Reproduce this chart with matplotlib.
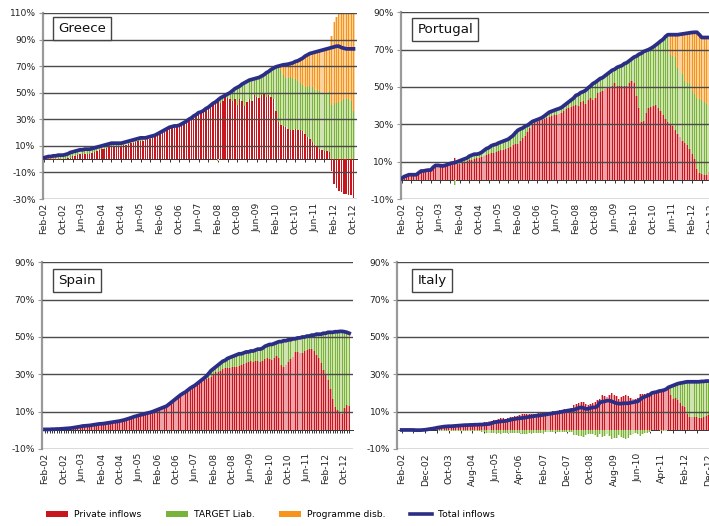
import numpy as np
import matplotlib
matplotlib.use("Agg")
import matplotlib.pyplot as plt
from matplotlib.patches import Patch
from matplotlib.lines import Line2D

plt.rcParams['font.family'] = ['DejaVu Sans']

# ---------------- data (% of GDP, monthly, from Feb-02) ----------------
LABELS_8 = ['Feb-02', 'Oct-02', 'Jun-03', 'Feb-04', 'Oct-04', 'Jun-05', 'Feb-06', 'Oct-06', 'Jun-07',
            'Feb-08', 'Oct-08', 'Jun-09', 'Feb-10', 'Oct-10', 'Jun-11', 'Feb-12', 'Oct-12']
LABELS_10 = ['Feb-02', 'Dec-02', 'Oct-03', 'Aug-04', 'Jun-05', 'Apr-06', 'Feb-07', 'Dec-07', 'Oct-08',
             'Aug-09', 'Jun-10', 'Apr-11', 'Feb-12', 'Dec-12']
SERIES = ['Private inflows', 'TARGET Liab.', 'Programme disb.', 'Total inflows']

# Greece (Feb-02 .. Oct-12)
GR_PRIV = [-1, -1, -1, -0.5, -0.5, -1, -1, -1, 0, 0, 0.5, 1, 2, 2.5, 3, 3.5,
           4, 4, 3.5, 4, 5, 5.5, 6, 7, 7.5, 8, 8.5, 9, 9.5, 9.5, 10, 10,
           10, 10.5, 11, 11.5, 12, 12.5, 13, 13.5, 14, 14, 14.5, 15, 15.5, 16, 16.5, 17.5,
           19, 20, 21, 23, 24, 24, 24.5, 24.5, 25, 26, 27, 28, 29.5, 30.5, 32, 33,
           34.5, 35, 36, 37.5, 38.5, 40, 41.5, 42, 46, 42, 44, 47, 46, 45, 44, 45,
           41, 45, 44, 40, 43, 45, 44, 48, 47, 46, 48, 49, 47, 48, 47, 45,
           36, 28, 26, 25, 24, 23, 22, 22, 23, 22, 22, 21, 19, 17, 15, 13,
           11, 9, 8, 7, 6, 6, 5.5, -9, -19, -22, -24, -25, -26, -26, -27, -27, -29]
GR_TARG = [1, 1.5, 2, 2, 2.5, 2.5, 3, 3, 3, 3.5, 3.5, 4, 3.5, 3.5, 3.5, 3.5,
           3, 3.5, 4, 3.5, 3, 3, 3, 2.5, 2.5, 2.5, 2.5, 2.5, 2.5, 2.5, 2, 2,
           2, 2, 2, 2, 2, 2, 2, 2, 2, 2, 1.5, 1.5, 1.5, 1.5, 1.5, 1.5,
           1, 1, 1, 0, 0, 0.5, 0.5, 0.5, 0.5, 0.5, 0.5, 0.5, 0.5, 0.5, 0.5, 0.5,
           0.5, 0.5, 0.5, 0.5, 0.5, 0.5, 0.5, 1, -1.5, 4, 3, 1, 3, 5, 7.5, 8,
           13, 10, 12.5, 17.5, 15.5, 14.5, 16, 12.5, 14, 15.5, 14.5, 14.5, 18, 18, 20.5, 23.5,
           33.5, 42, 41, 38, 37, 38, 40, 39, 37, 37, 35, 35, 35, 37, 40, 41,
           41, 43, 43, 44, 44, 44, 45.5, 41, 42, 42, 43, 44, 45, 45, 45, 44, 36]
GR_PROG = [0] * 98 + [3.5, 8, 10.2, 10.5, 10, 11.5, 13.5, 15, 18, 20, 23.5, 24.5, 24.5, 26, 28.5,
                      29, 30.5, 31, 32.5, 33, 32.5, 52, 61.5, 65, 66, 65, 64.5, 64, 65, 66, 76]
GR_TOTAL = [1, 1.5, 2, 2, 2.5, 2.5, 3, 3, 3, 3.5, 4, 5, 5.5, 6, 6.5, 7,
            7, 7.5, 7.5, 7.5, 8, 8.5, 9, 9.5, 10, 10.5, 11, 11.5, 12, 12, 12, 12,
            12, 12.5, 13, 13.5, 14, 14.5, 15, 15.5, 16, 16, 16, 16.5, 17, 17.5, 18, 19,
            20, 21, 22, 23, 24, 24.5, 25, 25, 25.5, 26.5, 27.5, 28.5, 30, 31, 32.5, 33.5,
            35, 35.5, 36.5, 38, 39, 40.5, 42, 43, 44.5, 46, 47, 48, 49, 50, 51.5, 53,
            54, 55, 56.5, 57.5, 58.5, 59.5, 60, 60.5, 61, 61.5, 62.5, 63.5, 65, 66, 67.5, 68.5,
            69.5, 70, 70.5, 71, 71.2, 71.5, 72, 72.5, 73.5, 74, 75, 76, 77.5, 78.5, 79.5, 80,
            80.5, 81, 81.5, 82, 82.5, 83, 83.5, 84, 84.5, 85, 85, 84, 83.5, 83, 83, 83, 83]

# Portugal (Feb-02 .. Oct-12)
PT_PRIV = [0.5, 1.5, 2, 2.5, 2.5, 2.5, 2.5, 3.5, 4.5, 4.5, 4.5, 5, 5, 6, 7, 7,
           7, 7, 7, 7.5, 8, 8, 12, 8.5, 9, 9.5, 10, 10.5, 11, 11, 11.5, 12,
           12, 12.5, 13, 13.5, 14, 14.5, 14.5, 15, 15.5, 16, 16.5, 17, 17.5, 18, 19, 19.5,
           19.5, 21, 22.5, 24, 26, 28, 30, 31, 31.5, 32, 32.5, 33, 33.5, 34, 34.5, 35,
           35, 35.5, 36, 37, 38, 39, 39.5, 40, 40.5, 40, 42, 42.5, 41, 43, 44, 43,
           44, 47, 47.5, 48, 49, 50, 50, 50.5, 52, 50.5, 50.5, 50.5, 50.5, 50.5, 52, 53,
           52, 45, 39, 31, 32, 36, 39, 39.5, 40, 40.5, 39, 37, 35, 33, 31, 30,
           29, 27, 25, 23, 21, 20, 19, 17, 14, 11.5, 6, 4, 3.5, 3, 3, 4.5, 5]
PT_TARG = [0.5, 0.5, 0.5, 0.5, 0.5, 0.5, 0.5, 0.5, 0.5, 0.5, 0.8, 0.5, 0.5, 1, 1, 1,
           0.8, 0.7, 1, 1, 1, 1.3, -2.5, 1.5, 1.5, 1.5, 1.5, 1.5, 2, 2.5, 2.5, 2,
           2.3, 2.5, 3, 3.5, 3.5, 4, 4.5, 4.3, 4.5, 4.5, 4.5, 4.5, 4.5, 5, 5, 6,
           7.3, 6.5, 5.5, 5, 3.5, 2.5, 1.5, 1, 1, 1, 1.1, 1.5, 2, 2.5, 2.5, 2.5,
           3, 2.9, 3, 3, 3, 3, 3.5, 4, 5, 6, 5, 5, 7.2, 6.5, 6.5, 8.8,
           8.5, 6.5, 7, 7, 7, 7, 8, 8.5, 7.5, 10, 10.5, 11, 12, 12.5, 12, 12,
           14, 21.5, 28.5, 37, 37, 33.5, 31, 31.2, 31.5, 32, 34.5, 37.6, 40.5, 44, 47, 37,
           37.5, 39, 35, 35, 36, 33, 33, 35, 34, 34.5, 38, 39.5, 39.5, 39, 38, 35.5, 35]
PT_PROG = [0] * 111 + [11, 11.5, 12, 18, 20.2, 21.4, 25.6, 26.8, 27, 31.2, 33.3, 35.3,
                       34.5, 33.5, 34.5, 35.5, 36.5, 36.5]
PT_TOTAL = [1, 2, 2.5, 3, 3, 3, 3, 4, 5, 5, 5.3, 5.5, 5.5, 7, 8, 8,
            7.8, 7.7, 8, 8.5, 9, 9.3, 9.5, 10, 10.5, 11, 11.5, 12, 13, 13.5, 14, 14,
            14.3, 15, 16, 17, 17.5, 18.5, 19, 19.3, 20, 20.5, 21, 21.5, 22, 23, 24, 25.5,
            26.8, 27.5, 28, 29, 29.5, 30.5, 31.5, 32, 32.5, 33, 33.6, 34.5, 35.5, 36.5, 37, 37.5,
            38, 38.4, 39, 40, 41, 42, 43, 44, 45.5, 46, 47, 47.5, 48.2, 49.5, 50.5, 51.8,
            52.5, 53.5, 54.5, 55, 56, 57, 58, 59, 59.5, 60.5, 61, 61.5, 62.5, 63, 64, 65,
            66, 66.5, 67.5, 68, 69, 69.5, 70, 70.7, 71.5, 72.5, 73.5, 74.6, 75.5, 77, 78, 78,
            78, 78, 78, 78.2, 78.4, 78.6, 78.8, 79, 79.2, 79.3, 79.3, 78, 76.5, 76.5, 76.5, 76.5, 76.5]

# Spain (Feb-02 .. Dec-12)
ES_PRIV = [0.3, 0.3, 0.4, 0.4, 0.5, 0.5, 0.6, 0.6, 0.7, 0.8, 0.9, 1, 1.2, 1.4, 1.6, 1.8,
           2, 2.1, 2.2, 2.4, 2.6, 2.8, 3, 3.2, 3.3, 3.4, 3.6, 3.8, 4, 4.2, 4.4, 4.6,
           4.8, 5.1, 5.4, 5.8, 6.2, 6.6, 7, 7.4, 7.8, 8.1, 8.4, 8.8, 9.1, 9.4, 9.8, 10.3,
           10.8, 11.3, 11.8, 12.3, 12.8, 13.8, 14.8, 15.8, 16.8, 17.8, 18.8, 19.5, 20.2, 21.2, 22.2, 23,
           23.5, 24.5, 25.5, 26.5, 27, 27.5, 28, 28.5, 29.5, 31, 31.5, 32, 33, 33.2, 33.5, 33.5,
           34, 34, 34, 34.5, 35, 35.5, 36, 36.5, 37, 36.8, 37, 37, 36.5, 37, 38, 38.5,
           38, 37.5, 39, 40, 39, 35, 34, 35, 36.5, 38, 39.5, 42, 42, 41.5, 41.5, 42.5,
           43, 43.5, 43.5, 42.5, 40.5, 38.5, 36, 32.5, 30, 27, 22, 17, 12.5, 11, 10, 9,
           12, 13.5, 13]
ES_TARG = [0.2, 0.2, 0.1, 0.2, 0.1, 0.2, 0.1, 0.2, 0.2, 0.2, 0.2, 0.2, 0.2, 0.2, 0.2, 0.2,
           0.3, 0.3, 0.3, 0.2, 0.2, 0.2, 0.2, 0.2, 0.2, 0.2, 0.2, 0.2, 0.2, 0.2, 0.2, 0.2,
           0.2, 0.2, 0.2, 0.2, 0.2, 0.2, 0.3, 0.2, 0.2, 0.2, 0.2, 0.2, 0.2, 0.2, 0.2, 0.2,
           0.2, 0.2, 0.2, 0.2, 0.2, 0.2, 0.2, 0.2, 0.2, 0.2, 0.2, 0.3, 0.3, 0.3, 0.3, 0.3,
           0.5, 0.5, 0.5, 0.5, 1, 1.5, 2.5, 3.5, 3.5, 3, 3.5, 4, 4, 4.3, 5, 5.5,
           5.5, 6, 6.5, 6.5, 6, 6, 6, 5.5, 5.5, 5.7, 6, 6.5, 7, 7, 7, 7,
           8, 8.5, 7.5, 7, 8.5, 12.5, 14, 13, 12, 10.5, 9.5, 7, 7.5, 8, 8.5, 7.5,
           7.5, 7, 7.5, 8.5, 11, 13, 15.5, 19.5, 22, 25.5, 30.5, 35.5, 40.3, 41.8, 43, 44,
           40.8, 39, 37]
ES_PROG = [0] * 130 + [2]
ES_TOTAL = [0.5, 0.5, 0.5, 0.6, 0.6, 0.7, 0.7, 0.8, 0.9, 1, 1.1, 1.2, 1.4, 1.6, 1.8, 2,
            2.3, 2.4, 2.5, 2.6, 2.8, 3, 3.2, 3.4, 3.5, 3.6, 3.8, 4, 4.2, 4.4, 4.6, 4.8,
            5, 5.3, 5.6, 6, 6.4, 6.8, 7.3, 7.6, 8, 8.3, 8.6, 9, 9.3, 9.6, 10, 10.5,
            11, 11.5, 12, 12.5, 13, 14, 15, 16, 17, 18, 19, 19.8, 20.5, 21.5, 22.5, 23.3,
            24, 25, 26, 27, 28, 29, 30.5, 32, 33, 34, 35, 36, 37, 37.5, 38.5, 39,
            39.5, 40, 40.5, 41, 41, 41.5, 42, 42, 42.5, 42.5, 43, 43.5, 43.5, 44, 45, 45.5,
            46, 46, 46.5, 47, 47.5, 47.5, 48, 48, 48.5, 48.5, 49, 49, 49.5, 49.5, 50, 50,
            50.5, 50.5, 51, 51, 51.5, 51.5, 51.5, 52, 52, 52.5, 52.5, 52.5, 52.8, 52.8, 53, 53,
            52.8, 52.5, 52]

# Italy (Feb-02 .. Dec-12)
IT_PRIV = [0.2, 0.2, 0.2, 0.2, 0.2, 0.2, 0.1, 0.1, 0.1, 0.2, 0.3, 0.5, 0.7, 0.9, 1.1, 1.4,
           1.7, 1.9, 2.1, 2.2, 2.3, 2.3, 2.4, 2.5, 2.6, 2.7, 2.8, 2.9, 2.9, 3, 3.2, 3.4,
           3.5, 3.6, 3.8, 4.3, 4.6, 4.8, 5.2, 5.5, 5.8, 6.2, 6.5, 6.4, 6.3, 6.6, 7, 7.3,
           7.5, 7.8, 8, 8.5, 8.8, 9, 8.8, 8.7, 8.8, 9, 9.2, 9.3, 9.5, 9.6, 9.8, 10,
           10.2, 10.4, 10.6, 10.8, 11, 11.2, 11.4, 11.6, 11.8, 13.5, 14, 14.9, 15.2, 15.4, 14, 13.5,
           14, 14.5, 15, 16.5, 17, 18.9, 18.5, 18, 19, 20.2, 19, 18.5, 17, 18, 18.5, 18.9,
           18.5, 17.5, 17, 16.6, 17.5, 19.3, 19.3, 19.5, 19.8, 20, 20, 20.2, 20.5, 21, 21.4, 21.8,
           22.3, 22, 18.8, 16.6, 17.5, 16, 14.5, 13, 12.3, 9, 7, 7, 7.3, 7, 6.5, 6.4,
           7, 7.5, 8]
IT_TARG = [0, 0, 0, 0, 0, 0, 0, 0, 0, 0, 0, 0, 0, 0, 0, 0,
           -0.1, -0.1, -0.1, -0.1, -0.1, -0.1, -0.1, -0.1, -0.1, -0.1, -0.1, -0.1, -0.1, -0.1, -0.3, -0.4,
           -0.5, -0.5, -0.7, -1.1, -1.3, -1.4, -1.4, -1.3, -1.3, -1.6, -1.7, -1.5, -1.3, -1.3, -1.4, -1.4,
           -1.4, -1.5, -1.5, -1.9, -2, -2, -1.6, -1.3, -1.2, -1.2, -1.3, -1.2, -1.2, -1.1, -1.1, -1.1,
           -1.1, -1.1, -1.1, -1.1, -1, -1, -0.9, -0.9, -0.9, -2.5, -2.5, -2.9, -2.9, -3.4, -2.5, -2,
           -2, -2.2, -2.7, -3.5, -2, -3.6, -3, -2.1, -3.1, -4.7, -4, -4, -2.7, -3.7, -4, -4.4,
           -4, -2.7, -2, -1.3, -2, -2.8, -1.8, -1.5, -1.3, -1, 0, 0.1, 0, 0, -0.2, -0.3,
           -0.3, 1, 4.7, 7.4, 7, 9, 10.8, 12.5, 13.5, 17, 19, 19, 18.7, 19, 19.5, 19.8,
           19.2, 18.9, 18.4]
IT_PROG = [0] * 131
IT_TOTAL = [0.2, 0.2, 0.2, 0.2, 0.2, 0.2, 0.1, 0.1, 0.1, 0.2, 0.3, 0.5, 0.7, 0.9, 1.1, 1.4,
            1.6, 1.8, 2, 2.1, 2.2, 2.2, 2.3, 2.4, 2.5, 2.6, 2.7, 2.8, 2.8, 2.9, 2.9, 3,
            3, 3.1, 3.1, 3.2, 3.3, 3.4, 3.8, 4.2, 4.5, 4.6, 4.8, 4.9, 5, 5.3, 5.6, 5.9,
            6.1, 6.3, 6.5, 6.6, 6.8, 7, 7.2, 7.4, 7.6, 7.8, 7.9, 8.1, 8.3, 8.5, 8.7, 8.9,
            9.1, 9.3, 9.5, 9.7, 10, 10.2, 10.5, 10.7, 10.9, 11, 11.5, 12, 12.3, 12, 11.5, 11.5,
            12, 12.3, 12.3, 13, 15, 15.3, 15.5, 15.9, 15.9, 15.5, 15, 14.5, 14.3, 14.3, 14.5, 14.5,
            14.5, 14.8, 15, 15.3, 15.5, 16.5, 17.5, 18, 18.5, 19, 20, 20.3, 20.5, 21, 21.2, 21.5,
            22, 23, 23.5, 24, 24.5, 25, 25.3, 25.5, 25.8, 26, 26, 26, 26, 26, 26, 26.2,
            26.2, 26.4, 26.4]

# ---------------- style ----------------
RED, RED_L = '#c8161e', '#eea3a8'
GREEN, GREEN_L = '#7ab33c', '#cfe4b0'
ORANGE, ORANGE_L = '#f7941d', '#fdd39b'
NAVY = '#2b2e86'
W, H = 709, 526

fig = plt.figure(figsize=(W / 100, H / 100), dpi=100)


def add_px_axes(left, top, right, bottom):
    return fig.add_axes([left / W, 1 - bottom / H, (right - left) / W, (bottom - top) / H])


def panel(rect, xlim, ylim, priv, targ, prog, total, labels, lab_step, tick_step,
          title, title_xy, priv_light=True):
    ax = add_px_axes(*rect)
    n = len(total)
    x = np.arange(n)
    pos = np.zeros(n)
    neg = np.zeros(n)
    specs = [(priv, RED, RED_L if priv_light else None, 0.4 if priv_light else 0.6),
             (targ, GREEN, GREEN_L, 0.4),
             (prog, ORANGE, ORANGE_L, 0.4)]
    for vals, dark, light, dw in specs:
        v = np.asarray(vals, dtype=float)
        bottom = np.where(v >= 0, pos, neg)
        if light is not None:
            ax.bar(x, v, bottom=bottom, width=1.0, color=light, linewidth=0, zorder=1)
        ax.bar(x, v, bottom=bottom, width=dw, color=dark, linewidth=0, zorder=1.5)
        pos += np.clip(v, 0, None)
        neg += np.clip(v, None, 0)
    ax.plot(x, total, color=NAVY, lw=2.7, zorder=4, solid_joinstyle='round')

    ax.set_xlim(*xlim)
    ax.set_ylim(*ylim)
    yt = np.arange(ylim[0], ylim[1] + 1, 20)
    ax.set_yticks(yt)
    ax.set_yticklabels([f'{v}%' for v in yt])
    ax.yaxis.grid(True, color='#4a4a4a', lw=1.0)
    ax.set_axisbelow(False)
    for s in ['top', 'right', 'bottom']:
        ax.spines[s].set_visible(False)
    ax.spines['left'].set_color('#9a9a9a')
    ax.spines['left'].set_linewidth(1.6)
    ax.tick_params(axis='y', length=3, color='#9a9a9a', labelsize=6.6, pad=2, labelcolor='#222222')
    ax.set_xticks(np.arange(0, lab_step * len(labels), lab_step)[:len(labels)])
    ax.set_xticklabels(labels, rotation=90, fontsize=6.6, color='#222222')
    ax.tick_params(axis='x', length=0, pad=3)

    frac = (0 - ylim[0]) / (ylim[1] - ylim[0])
    sec = ax.secondary_xaxis(frac)
    sec.set_xticks(np.arange(0, n, tick_step))
    sec.set_xticklabels([])
    sec.tick_params(axis='x', length=2.2, width=0.7, color='#333333', direction='out')
    for s in sec.spines.values():
        s.set_color('#333333')
        s.set_linewidth(0.7)

    fig.text(title_xy[0] / W, 1 - title_xy[1] / H, title, fontsize=9.6, ha='left', va='top',
             color='#111111', zorder=10,
             bbox=dict(boxstyle='square,pad=0.38', fc='white', ec='#444444', lw=1.0))
    return ax


panel((42.5, 13, 357.1, 199), (-0.5, 129.5), (-30, 110), GR_PRIV, GR_TARG, GR_PROG, GR_TOTAL,
      LABELS_8, 8, 4, 'Greece', (58.5, 22.3), priv_light=False)
panel((400.5, 12.3, 715.1, 199), (-0.5, 129.5), (-10, 90), PT_PRIV, PT_TARG, PT_PROG, PT_TOTAL,
      LABELS_8, 8, 4, 'Portugal', (417.5, 23.3))
panel((41.7, 262.3, 352.9, 449), (-1.4, 131.6), (-10, 90), ES_PRIV, ES_TARG, ES_PROG, ES_TOTAL,
      LABELS_8, 8, 1, 'Spain', (58.5, 274.3))
panel((396.7, 262.3, 713, 449), (-2.1, 131.9), (-10, 90), IT_PRIV, IT_TARG, IT_PROG, IT_TOTAL,
      LABELS_10, 10, 5, 'Italy', (417.5, 274.3))

handles = [Patch(fc=RED, ec='none'), Patch(fc=GREEN, ec='none'), Patch(fc=ORANGE, ec='none'),
           Line2D([0], [0], color=NAVY, lw=2.6)]
fig.legend(handles, SERIES, loc='center', bbox_to_anchor=(0.3815, 0.021), ncol=4, frameon=False,
           fontsize=6.6, handlelength=2.4, handleheight=0.7, columnspacing=2.7,
           handletextpad=0.65)

fig.savefig('out.png', dpi=100)
